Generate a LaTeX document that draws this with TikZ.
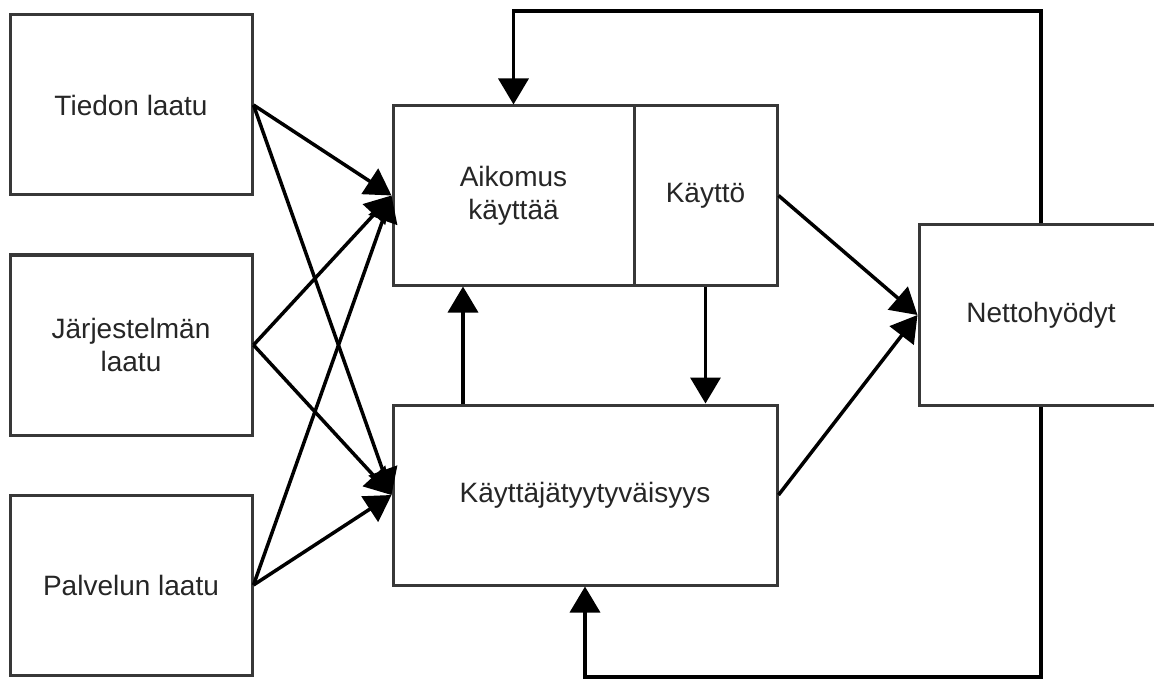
\documentclass[tikz,border=0pt]{standalone}
\usepackage{fontspec}
\setmainfont{Liberation Sans}
\usetikzlibrary{arrows.meta}
\begin{document}
\begin{tikzpicture}[x=1pt,y=-1pt,
  box/.style={draw=black!78, line width=3pt, fill=white, align=center, inner sep=0pt,
    font=\fontsize{28}{33}\selectfont, text=black!85},
  arr/.style={draw=black, line width=3.5pt, -{Triangle[length=26pt,width=30pt]}},
  fb/.style={draw=black, line width=3pt}]
\useasboundingbox (0,0) rectangle (1154,679);
% boxes
\node[box, minimum width=242pt, minimum height=180pt] (tied) at (131,105) {Tiedon laatu};
\node[box, minimum width=242pt, minimum height=180pt] (jarj) at (131,345) {Järjestelmän\\laatu};
\node[box, minimum width=242pt, minimum height=180pt] (palv) at (131,585) {Palvelun laatu};
\node[box, minimum width=241pt, minimum height=179pt] (aik) at (513.5,195.5) {Aikomus\\käyttää};
\node[box, minimum width=143pt, minimum height=179pt] (kay) at (705.5,195.5) {Käyttö};
\node[box, minimum width=384pt, minimum height=180pt] (kt) at (585,495) {Käyttäjätyytyväisyys};
\node[box, minimum width=244pt, minimum height=180pt] (net) at (1041,315) {Nettohyödyt};
% coordinates
\coordinate (topy) at (0,11);
\coordinate (boty) at (0,677);
\coordinate (upx) at (463,0);
% input arrows
\draw[arr] (tied.east) -- (aik.west);
\draw[arr] (tied.east) -- (kt.west);
\draw[arr] (jarj.east) -- (aik.west);
\draw[arr] (jarj.east) -- (kt.west);
\draw[arr] (palv.east) -- (aik.west);
\draw[arr] (palv.east) -- (kt.west);
% middle arrows
\draw[arr] (kt.north -| upx) -- (aik.south -| upx);
\draw[arr] (kay.south) -- (kay.south |- kt.north);
\draw[arr] (kay.east) -- (net.west);
\draw[arr] (kt.east) -- (net.west);
% feedback
\draw[arr] (net.north) -- (net.north |- topy) -- (aik.north |- topy) -- (aik.north);
\draw[arr] (net.south) -- (net.south |- boty) -- (kt.south |- boty) -- (kt.south);
\end{tikzpicture}
\end{document}
